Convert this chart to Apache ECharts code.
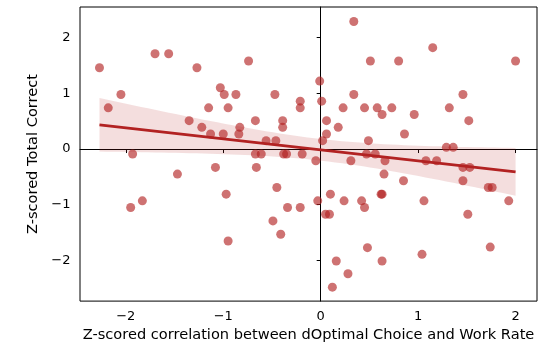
<!DOCTYPE html>
<html>
<head>
<meta charset="utf-8">
<script src="https://cdn.jsdelivr.net/npm/echarts@6/dist/echarts.min.js"></script>
<style>
  html, body { margin: 0; padding: 0; background: #fff; }
  #chart { width: 550px; height: 348px; }
</style>
</head>
<body>
<div id="chart"></div>
<script>
// values
const corrZ = [
  -2.27, -2.18, -2.05, -1.93, -1.70, -1.56, -1.27, -1.35, -1.22, -1.15,
  -1.13, -1.03, -0.99, -0.95, -1.00, -0.87, -0.83, -0.84, -0.74, -0.67,
  -0.56, -0.46, -0.47, -0.39, -0.39, -0.21, -0.21, -0.01, 0.01, 0.06,
  0.06, 0.02, 0.18, 0.23, 0.34, 0.34, 0.45, 0.51, 0.49, 0.58,
  0.63, 0.73, -0.67, -0.61, -0.38, -0.35, -0.19, -0.05, 0.47, 0.56,
  0.31, 0.80, 1.15, 2.00, 0.96, 0.86, 1.32, 1.46, 1.52, 1.29,
  1.36, 1.08, 1.19, 0.66, 0.65, 0.85, 0.63, 1.06, 1.46, 1.53,
  1.46, 1.72, 1.76, 1.93, 1.51, 1.74, 1.04, 0.63, -0.66, -0.45,
  -0.34, -0.21, -0.49, -0.41, -0.03, 0.10, 0.24, 0.42, 0.45, 0.05,
  0.09, 0.62, 0.48, 0.16, 0.28, 0.12, -1.47, -1.08, -0.97, -1.83,
  -1.95, -0.95
];
const correctZ = [
  1.46, 0.74, 0.98, -0.09, 1.71, 1.71, 1.46, 0.51, 0.39, 0.74,
  0.27, 1.10, 0.98, 0.74, 0.27, 0.98, 0.39, 0.27, 1.58, 0.51,
  0.15, 0.15, 0.98, 0.51, 0.39, 0.86, 0.74, 1.22, 0.86, 0.51,
  0.27, 0.15, 0.39, 0.74, 2.29, 0.98, 0.74, 1.58, 0.15, 0.74,
  0.62, 0.74, -0.09, -0.09, -0.09, -0.09, -0.09, -0.21, -0.09, -0.09,
  -0.21, 1.58, 1.82, 1.58, 0.62, 0.27, 0.74, 0.98, 0.51, 0.03,
  0.03, -0.21, -0.21, -0.21, -0.45, -0.57, -0.81, -0.93, -0.33, -0.33,
  -0.57, -0.69, -0.69, -0.93, -1.17, -1.76, -1.89, -2.01, -0.33, -0.69,
  -1.05, -1.05, -1.29, -1.53, -0.93, -0.81, -0.93, -0.93, -1.05, -1.17,
  -1.17, -0.81, -1.77, -2.01, -2.24, -2.48, -0.45, -0.33, -0.81, -0.93,
  -1.05, -1.65
];
const xTicks = [-2, -1, 0, 1, 2];
const yTicks = [-2, -1, 0, 1, 2];

// linear fit + 95% confidence band, computed from the points
const n = corrZ.length;
const mx = corrZ.reduce((s, v) => s + v, 0) / n;
const my = correctZ.reduce((s, v) => s + v, 0) / n;
let sxx = 0, sxy = 0;
for (let i = 0; i < n; i++) {
  sxx += (corrZ[i] - mx) * (corrZ[i] - mx);
  sxy += (corrZ[i] - mx) * (correctZ[i] - my);
}
const slope = sxy / sxx;
const icpt = my - slope * mx;
let sse = 0;
for (let i = 0; i < n; i++) {
  const r = correctZ[i] - (icpt + slope * corrZ[i]);
  sse += r * r;
}
const se = Math.sqrt(sse / (n - 2));
const tCrit = 1.984;
const xMin = Math.min(...corrZ), xMax = Math.max(...corrZ);

const bandUpper = [], bandLower = [];
for (let k = 0; k <= 60; k++) {
  const x = xMin + (xMax - xMin) * k / 60;
  const yh = icpt + slope * x;
  const h = tCrit * se * Math.sqrt(1 / n + (x - mx) * (x - mx) / sxx);
  bandUpper.push([x, yh + h]);
  bandLower.push([x, yh - h]);
}
const fitLine = [[xMin, icpt + slope * xMin], [xMax, icpt + slope * xMax]];

const points = corrZ.map((x, i) => [x, correctZ[i]]);

const minus = v => (v < 0 ? '\u2212' : '') + Math.abs(v);
const font = 'DejaVu Sans';

let myChart = echarts.init(document.getElementById('chart'));
let option = {
  animation: false,
  grid: {
    left: 80, right: 13, top: 7, bottom: 45,
    show: true, borderColor: '#000', borderWidth: 1
  },
  xAxis: {
    type: 'value',
    min: -2.47, max: 2.22,
    name: 'Z-scored correlation between dOptimal Choice and Work Rate',
    nameLocation: 'middle',
    nameGap: 21,
    nameTextStyle: { color: '#000', fontSize: 14.6, fontFamily: font },
    axisLine: { lineStyle: { color: '#000', width: 1 } },
    axisTick: { customValues: xTicks, length: 4, lineStyle: { color: '#000' } },
    axisLabel: {
      customValues: xTicks, formatter: minus, margin: 9,
      color: '#000', fontSize: 13, fontFamily: font
    },
    splitLine: { show: false }
  },
  yAxis: {
    type: 'value',
    min: -2.73, max: 2.55,
    name: 'Z-scored Total Correct',
    nameLocation: 'middle',
    nameGap: 37,
    nameTextStyle: { color: '#000', fontSize: 14.6, fontFamily: font },
    axisLine: { show: true, lineStyle: { color: '#000', width: 1 } },
    axisTick: { show: true, customValues: yTicks, length: 4, lineStyle: { color: '#000' } },
    axisLabel: {
      customValues: yTicks, formatter: minus, margin: 9.5,
      color: '#000', fontSize: 13, fontFamily: font
    },
    splitLine: { show: false }
  },
  series: [
    {
      type: 'scatter',
      data: points,
      symbolSize: 9,
      itemStyle: { color: 'rgba(178,34,34,0.8)' },
      z: 2
    },
    {
      type: 'custom',
      data: [[xMin, 0]],
      encode: { x: 0, y: 1 },
      z: 3,
      silent: true,
      renderItem: function (params, api) {
        const pts = bandUpper.concat(bandLower.slice().reverse())
          .map(p => api.coord(p));
        return {
          type: 'polygon',
          shape: { points: pts },
          style: { fill: 'rgba(178,34,34,0.15)' }
        };
      }
    },
    {
      type: 'line',
      data: fitLine,
      symbol: 'none',
      lineStyle: { color: '#b22222', width: 2.8 },
      z: 4
    }
  ]
};
myChart.setOption(option);
</script>
</body>
</html>
